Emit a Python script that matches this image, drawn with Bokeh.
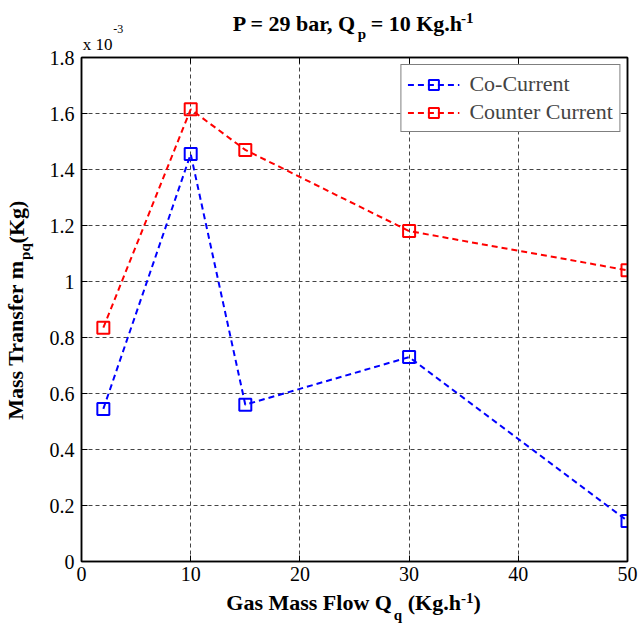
from bokeh.plotting import figure
from bokeh.models import (Range1d, FixedTicker, LinearAxis, CustomJSTickFormatter, Legend)
from bokeh.embed import file_html
from bokeh.resources import INLINE

# ---- data ----
gas_flow = [2, 10, 15, 30, 50]
co_current = [0.545e-3, 1.455e-3, 0.56e-3, 0.73e-3, 0.145e-3]
counter_current = [0.835e-3, 1.615e-3, 1.47e-3, 1.18e-3, 1.04e-3]
x_ticks = [0, 10, 20, 30, 40, 50]
y_ticks = [0.0, 0.2e-3, 0.4e-3, 0.6e-3, 0.8e-3, 1.0e-3, 1.2e-3, 1.4e-3, 1.6e-3, 1.8e-3]

# ---- text pieces (anchor positions along the axes, in data units) ----
title_main = ["P = 29 bar, Q", "= 10 Kg.h"]
title_main_at = [19.51, 30.67]
title_sub, title_sub_at = ["p"], [25.69]
title_sup, title_sup_at = ["-1"], [35.33]
expo_base, expo_base_at = ["x 10"], [1.48]
expo_pow, expo_pow_at = ["-3"], [3.36]
xlab_main = ["Gas Mass Flow Q", "(Kg.h", ")"]
xlab_main_at = [20.84, 32.31, 36.24]
xlab_sub, xlab_sub_at = ["q"], [28.98]
xlab_sup, xlab_sup_at = ["-1"], [35.33]
ylab_main = ["Mass Transfer m", "(Kg)"]
ylab_main_at = [0.791e-3, 1.2125e-3]
ylab_sub, ylab_sub_at = ["pq"], [1.107e-3]
legend_labels = ["Co-Current", "Counter Current"]

FONT = "Liberation Serif"

p = figure(width=640, height=628, output_backend="svg", toolbar_location=None,
           x_range=Range1d(0, 50), y_range=Range1d(0, 1.8e-3),
           min_border_left=80, min_border_right=13, min_border_top=57, min_border_bottom=67,
           title=None)
p.background_fill_color = "white"
p.border_fill_color = "white"
p.outline_line_color = "black"
p.outline_line_width = 1.5

fmt_y = CustomJSTickFormatter(code="return String(Math.round(tick*10000)/10);")

for ax, tk in ((p.xaxis[0], x_ticks), (p.yaxis[0], y_ticks)):
    ax.ticker = FixedTicker(ticks=tk, minor_ticks=[])
    ax.major_tick_in = 6
    ax.major_tick_out = 0
    ax.minor_tick_in = 0
    ax.minor_tick_out = 0
    ax.axis_line_width = 1.5
    ax.major_tick_line_width = 1
    ax.major_label_text_font = FONT
    ax.major_label_text_font_size = "20px"
    ax.major_label_text_color = "black"
p.yaxis[0].formatter = fmt_y
p.yaxis[0].major_label_standoff = 7
p.xaxis[0].major_label_standoff = 5

for loc, tk in (("right", y_ticks), ("above", x_ticks)):
    ax = LinearAxis(ticker=FixedTicker(ticks=tk, minor_ticks=[]),
                    formatter=CustomJSTickFormatter(code="return '';"),
                    major_tick_in=6, major_tick_out=0, minor_tick_in=0, minor_tick_out=0,
                    major_label_standoff=0, major_label_text_font_size="0px",
                    axis_line_width=1.5)
    p.add_layout(ax, loc)


def text_axis(side, at, texts, size, bold, standoff, orientation="horizontal"):
    ax = LinearAxis(ticker=FixedTicker(ticks=at, minor_ticks=[]),
                    formatter=CustomJSTickFormatter(args=dict(labels=texts),
                                                    code="return labels[index];"),
                    major_label_standoff=standoff,
                    major_tick_in=0, major_tick_out=0, minor_tick_in=0, minor_tick_out=0,
                    axis_line_color=None, major_tick_line_color=None,
                    minor_tick_line_color=None,
                    major_label_orientation=orientation,
                    major_label_text_font=FONT, major_label_text_font_size=f"{size}px",
                    major_label_text_font_style="bold" if bold else "normal",
                    major_label_text_color="black")
    p.add_layout(ax, side)


# above: exponent and title (stacked outward from the frame)
text_axis("above", expo_base_at, expo_base, 17, False, 4)
text_axis("above", title_sub_at, title_sub, 15, True, -10)
text_axis("above", expo_pow_at, expo_pow, 12, False, -10)
text_axis("above", title_main_at, title_main, 22, True, -14)
text_axis("above", title_sup_at, title_sup, 15, True, -15)

# below: x label
text_axis("below", xlab_sup_at, xlab_sup, 15, True, 9)
text_axis("below", xlab_main_at, xlab_main, 22, True, -16)
text_axis("below", xlab_sub_at, xlab_sub, 15, True, -11)

# left: y label
text_axis("left", ylab_sub_at, ylab_sub, 15, True, 13, "parallel")
text_axis("left", ylab_main_at, ylab_main, 22, True, -14, "parallel")

p.xgrid.ticker = FixedTicker(ticks=x_ticks, minor_ticks=[])
p.ygrid.ticker = FixedTicker(ticks=y_ticks, minor_ticks=[])
for g in (p.xgrid, p.ygrid):
    g.grid_line_color = "#444444"
    g.grid_line_dash = "4 3"
    g.grid_line_width = 1

l1 = p.line(gas_flow, co_current, line_color="#0000ff", line_width=2, line_dash="6 4")
s1 = p.scatter(gas_flow, co_current, marker="square", size=12, fill_color=None,
               line_color="#0000ff", line_width=2)
l2 = p.line(gas_flow, counter_current, line_color="#ff0000", line_width=2, line_dash="6 4")
s2 = p.scatter(gas_flow, counter_current, marker="square", size=12, fill_color=None,
               line_color="#ff0000", line_width=2)

legend = Legend(items=[(legend_labels[0], [l1, s1]), (legend_labels[1], [l2, s2])],
                location="top_right", margin=7, padding=6, spacing=2,
                glyph_width=52, glyph_height=25, label_height=25, label_standoff=10,
                label_text_font=FONT, label_text_font_size="22px",
                border_line_color="black", border_line_width=1.5,
                background_fill_color="white", background_fill_alpha=1)
p.add_layout(legend)

open("out.html", "w").write(file_html(p, INLINE))
